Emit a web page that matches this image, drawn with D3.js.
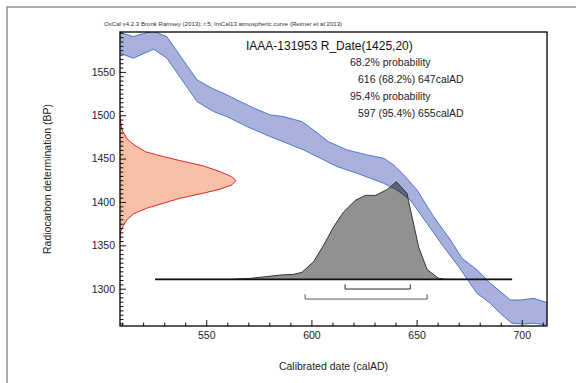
<!DOCTYPE html>
<html><head><meta charset="utf-8">
<script src="https://cdn.jsdelivr.net/npm/d3@7/dist/d3.min.js"></script>
<style>
html,body{margin:0;padding:0;background:#fff;}
svg text{font-family:"Liberation Sans",Arial,sans-serif;}
</style></head>
<body><svg id="c" width="576" height="383"></svg>
<script>
// ---- data ----
const headerText = "OxCal v4.2.3 Bronk Ramsey (2013); r:5; IntCal13 atmospheric curve (Reimer et al 2013)";
const titleText = "IAAA-131953 R_Date(1425,20)";
const infoLines = ["68.2% probability","616 (68.2%) 647calAD","95.4% probability","597 (95.4%) 655calAD"];
const xLabel = "Calibrated date (calAD)";
const yLabel = "Radiocarbon determination (BP)";
const xDomain = [509, 712];
const yDomain = [1257, 1596];
const xMajorTicks = [550, 600, 650, 700];
const yMajorTicks = [1300, 1350, 1400, 1450, 1500, 1550];

// calibration curve band (cal AD, BP upper / lower)
const curveUpperYears = [509,515.3,524.6,531.2,545.6,552.7,559.8,564.6,572.4,580.4,586.6,595.5,600.9,608,616.9,626.4,634.3,639.1,643.9,650.2,658.1,666.1,671.6,678.8,685.1,694.6,699.4,705.7,712.2];
const curveUpperBP =    [1595.4,1590.8,1597,1590.8,1540.8,1531.2,1523.5,1517.7,1508.5,1500.4,1498.5,1492.7,1483.1,1469.6,1460,1454.3,1450.5,1442.7,1431.2,1413.9,1383.1,1356.2,1335.1,1321.6,1306.2,1287,1287,1288.9,1283.8];
const curveLowerYears = [509,515.3,525,531.3,545.6,553.5,559.8,569.4,580.4,588.4,596.3,604.2,612.2,621.7,628,634.3,640.7,647,654.9,662.8,670,678.7,685,689.8,695.3,700.8,705.6,712.2];
const curveLowerBP =    [1571.6,1565.8,1576.2,1565.8,1515.8,1504.2,1498.5,1486.9,1475.4,1467.8,1460,1450.5,1440.8,1433.1,1427.4,1421.6,1413.9,1402.3,1375.5,1348.5,1325.4,1294.7,1283.2,1271.6,1260.1,1259.3,1260.1,1258.1];

// radiocarbon date distribution (BP, relative density)
const rcBP =   [1499,1490,1482,1473,1466,1458,1454.3,1447.7,1441.6,1435,1429.2,1424.6,1419.6,1414.7,1410.1,1404.3,1398.5,1392.8,1386.2,1379.3,1371.5,1365.8,1356];
const rcDens = [0,0.008,0.022,0.06,0.12,0.22,0.316,0.517,0.718,0.862,0.963,1,0.963,0.862,0.718,0.517,0.373,0.23,0.115,0.058,0.023,0.006,0];

// calibrated distribution (cal AD, relative probability)
const calYears = [525.7,555,561.4,570.9,585.2,591.5,595.5,601,605.8,610.6,615.3,620.9,625.6,630.4,636,640.4,645.5,646.2,651,655,660.5,663.7,695.4];
const calProb  = [0,0,0,0.01,0.044,0.051,0.072,0.18,0.35,0.54,0.69,0.81,0.86,0.86,0.92,1,0.88,0.8,0.33,0.1,0.01,0,0];
const calBaseBP = 1310.8;

// ranges
const ranges = [
  {label:"68.2%", from:616, to:647},
  {label:"95.4%", from:597, to:655}
];

// ---- drawing ----
const svg = d3.select("#c");
const M = {left:120, right:547, top:32, bottom:326};
const x = d3.scaleLinear().domain(xDomain).range([M.left, M.right]);
const y = d3.scaleLinear().domain(yDomain).range([M.bottom, M.top]);
const rcW = d3.scaleLinear().domain([0,1]).range([0,116]);
const calH = d3.scaleLinear().domain([0,1]).range([0,97.6]);

// outer frame
svg.append("rect").attr("x",7).attr("y",7).attr("width",600).attr("height",400)
  .attr("fill","none").attr("stroke","#777").attr("stroke-width",1.2);

svg.append("defs").append("clipPath").attr("id","clip")
  .append("rect").attr("x",M.left).attr("y",M.top).attr("width",M.right-M.left).attr("height",M.bottom-M.top);

const plot = svg.append("g").attr("clip-path","url(#clip)");

// calibration band
const upper = curveUpperYears.map((d,i)=>[x(d), y(curveUpperBP[i])]);
const lower = curveLowerYears.map((d,i)=>[x(d), y(curveLowerBP[i])]);
const line = d3.line();
plot.append("path").attr("d", line(upper.concat(lower.slice().reverse())) + "Z")
  .attr("fill","#aab0dc").attr("stroke","none");
plot.append("path").attr("d", line(upper)).attr("fill","none").attr("stroke","#3c6cc8").attr("stroke-width",0.9);
plot.append("path").attr("d", line(lower)).attr("fill","none").attr("stroke","#3c6cc8").attr("stroke-width",0.9);

// radiocarbon distribution (red)
const rcPts = rcBP.map((b,i)=>[x(xDomain[0]) + rcW(rcDens[i]), y(b)]);
plot.append("path").attr("d", line(rcPts)+"Z").attr("fill","#f9c0a8").attr("stroke","none");
plot.append("path").attr("d", line(rcPts)).attr("fill","none").attr("stroke","#e8242a").attr("stroke-width",1);

// calibrated distribution (grey)
const baseY = y(calBaseBP);
const calPts = calYears.map((d,i)=>[x(d), baseY - calH(calProb[i])]);
plot.append("path").attr("d", line(calPts)+"Z").attr("fill","#000").attr("fill-opacity",0.43).attr("stroke","none");
plot.append("path").attr("d", line(calPts)).attr("fill","none").attr("stroke","#333").attr("stroke-width",1);
plot.append("line").attr("x1",x(calYears[0])).attr("x2",x(calYears[calYears.length-1]))
  .attr("y1",baseY).attr("y2",baseY).attr("stroke","#111").attr("stroke-width",1.8);

// range brackets
const rangeColors = ["#222","#555"];
ranges.forEach((r,i)=>{
  const ly = baseY + 9.7 + i*10;
  const p = d3.path();
  p.moveTo(x(r.from), ly-4.7); p.lineTo(x(r.from), ly); p.lineTo(x(r.to), ly); p.lineTo(x(r.to), ly-4.7);
  svg.append("path").attr("d", p.toString()).attr("fill","none").attr("stroke",rangeColors[i]).attr("stroke-width",1);
});

// axes
const axFont = "10.5px";
const yMinor = d3.range(1260, 1596, 5).filter(v=>v%50!==0);
const xMinor = d3.range(510, 713, 10).filter(v=>v%50!==0);
svg.append("g").attr("transform",`translate(${M.left},0)`)
  .call(d3.axisLeft(y).tickValues(yMinor).tickSize(-3.5).tickFormat(""))
  .call(g=>{g.select(".domain").remove(); g.selectAll("line").attr("stroke","#111");});
svg.append("g").attr("transform",`translate(${M.left},0)`)
  .call(d3.axisLeft(y).tickValues(yMajorTicks).tickSize(-6).tickPadding(5).tickFormat(d3.format("d")))
  .call(g=>{g.select(".domain").remove(); g.selectAll("line").attr("stroke","#111");
    g.selectAll("text").attr("font-size",axFont).attr("fill","#222").attr("font-family","Liberation Sans, Arial, sans-serif");});
svg.append("g").attr("transform",`translate(0,${M.bottom})`)
  .call(d3.axisBottom(x).tickValues(xMinor).tickSize(-3.5).tickFormat(""))
  .call(g=>{g.select(".domain").remove(); g.selectAll("line").attr("stroke","#111");});
svg.append("g").attr("transform",`translate(0,${M.bottom})`)
  .call(d3.axisBottom(x).tickValues(xMajorTicks).tickSize(-6).tickPadding(6).tickFormat(d3.format("d")))
  .call(g=>{g.select(".domain").remove(); g.selectAll("line").attr("stroke","#111");
    g.selectAll("text").attr("font-size",axFont).attr("fill","#222").attr("font-family","Liberation Sans, Arial, sans-serif");});

// frame
svg.append("rect").attr("x",M.left).attr("y",M.top).attr("width",M.right-M.left).attr("height",M.bottom-M.top)
  .attr("fill","none").attr("stroke","#000").attr("stroke-width",1.3);

// texts
svg.append("text").attr("x",104).attr("y",26).attr("font-size","6.1px").attr("fill","#333").text(headerText);
svg.append("text").attr("x",246).attr("y",50).attr("font-size","12px").attr("fill","#111").text(titleText);
const infoX = [350,358,350,358];
const infoY = [65.5,82.5,99.5,116.5];
infoLines.forEach((t,i)=>{
  svg.append("text").attr("x",infoX[i]).attr("y",infoY[i]).attr("font-size","10.5px").attr("fill","#222").text(t);
});
svg.append("text").attr("x",(M.left+M.right)/2).attr("y",370).attr("text-anchor","middle")
  .attr("font-size","10.5px").attr("fill","#222").text(xLabel);
svg.append("text").attr("transform",`translate(51,${(M.top+M.bottom)/2}) rotate(-90)`).attr("text-anchor","middle")
  .attr("font-size","10.5px").attr("fill","#222").text(yLabel);
</script>
</body></html>
